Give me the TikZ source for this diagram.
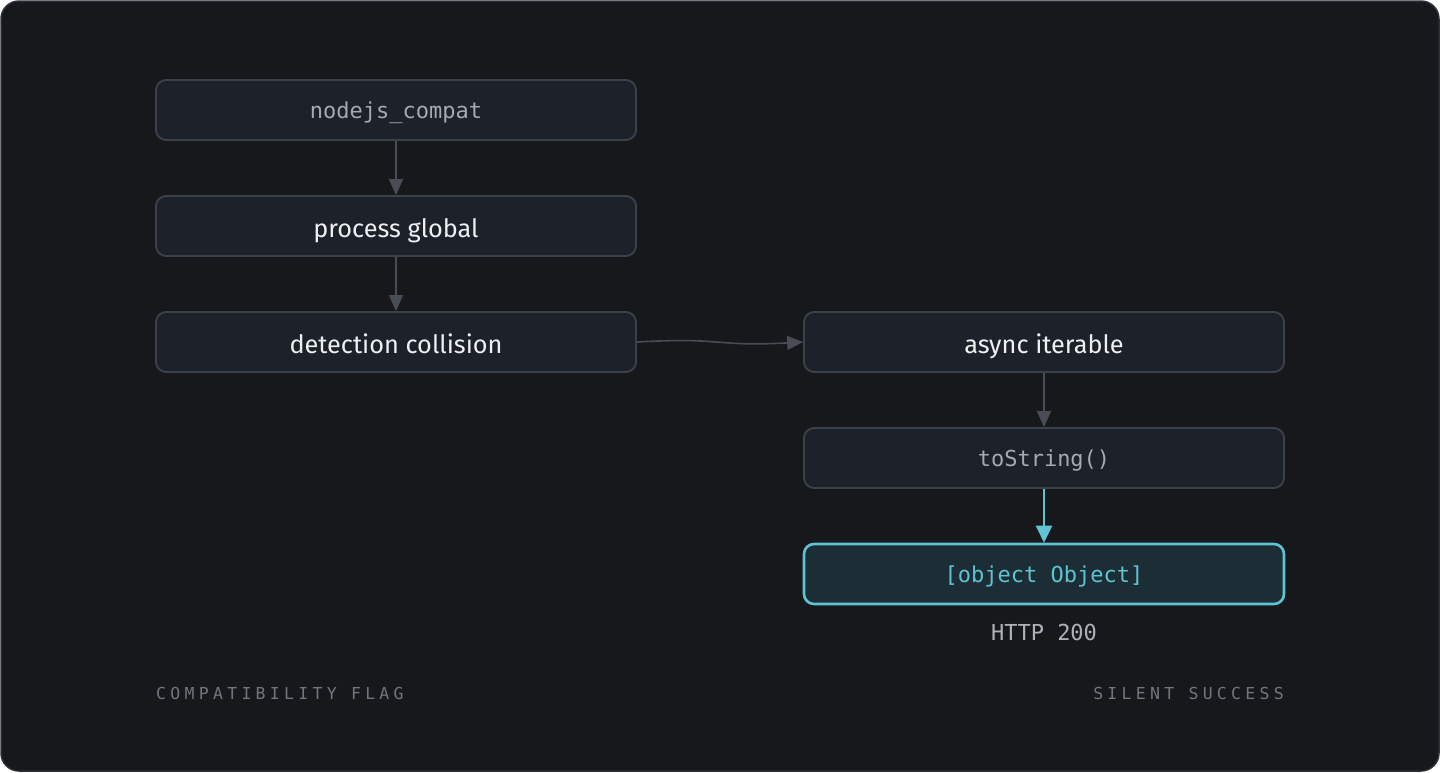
\documentclass[tikz,border=0pt]{standalone}
\usepackage{fontspec}
\setmainfont{Fira Sans}
\newfontfamily\monof{DejaVu Sans Mono}
\newfontfamily\labf[LetterSpace=26]{DejaVu Sans Mono}
\usetikzlibrary{arrows.meta,calc}
\definecolor{bgc}{HTML}{16181C}
\definecolor{framec}{HTML}{2B2F36}
\definecolor{nodefill}{HTML}{1D2129}
\definecolor{nodeline}{HTML}{3B4049}
\definecolor{arrc}{HTML}{474C55}
\definecolor{monotext}{HTML}{A5A9B0}
\definecolor{sanstext}{HTML}{EEF0F2}
\definecolor{teal}{HTML}{5EC4D4}
\definecolor{tealfill}{HTML}{1C2D35}
\definecolor{labc}{HTML}{71767D}
\tikzset{
  box/.style={draw=nodeline, fill=nodefill, line width=1.8pt, rounded corners=10pt,
    minimum width=480pt, minimum height=60pt, inner sep=0pt},
  monobox/.style={box, font=\monof\fontsize{22}{26}\selectfont, text=monotext,
    text height=21pt, text depth=5pt},
  sansbox/.style={box, font=\fontsize{25.3}{30}\selectfont, text=sanstext,
    text height=28pt, text depth=6pt},
  hlbox/.style={box, draw=teal, fill=tealfill, line width=2.6pt,
    font=\monof\fontsize{22}{26}\selectfont, text=teal, text height=21pt, text depth=5pt},
  arr/.style={draw=arrc, line width=1.6pt, -{Triangle[length=16pt,width=14pt]}},
  hlarr/.style={draw=teal, line width=2.6pt, -{Triangle[length=17pt,width=16pt]}},
  lab/.style={font=\labf\fontsize{16.5}{20}\selectfont, text=labc},
}
\begin{document}
\begin{tikzpicture}[x=1pt,y=-1pt]
\useasboundingbox (0,0) rectangle (1440,772);
\fill[white] (0,0) rectangle (1440,772);
\draw[fill=bgc, draw=framec, line width=1.5pt, rounded corners=18pt] (1,1) rectangle (1439,771);

\node[monobox] (n1) at (396,110) {nodejs\_compat};
\node[sansbox] (n2) at (396,226) {process global};
\node[sansbox] (n3) at (396,342) {detection collision};
\node[sansbox] (n4) at (1044,342) {async iterable};
\node[monobox] (n5) at (1044,458) {toString()};
\node[hlbox] (n6) at (1044,574) {[object Object]};

\node[font=\monof\fontsize{22}{26}\selectfont, text=monotext!90] (http) at (1044,632) {HTTP 200};
\node[lab, anchor=west, inner sep=0pt] (l1) at (156,693) {COMPATIBILITY FLAG};
\node[lab, anchor=east, inner sep=0pt] (l2) at (1284,693) {SILENT SUCCESS};

\draw[arr] (n1.south) -- (n2.north);
\draw[arr] (n2.south) -- (n3.north);
\draw[arr] (n3.east) .. controls ($(n3.east)+(90,-5)$) and ($(n4.west)+(-90,5)$) .. (n4.west);
\draw[arr] (n4.south) -- (n5.north);
\draw[hlarr] (n5.south) -- (n6.north);
\end{tikzpicture}
\end{document}
